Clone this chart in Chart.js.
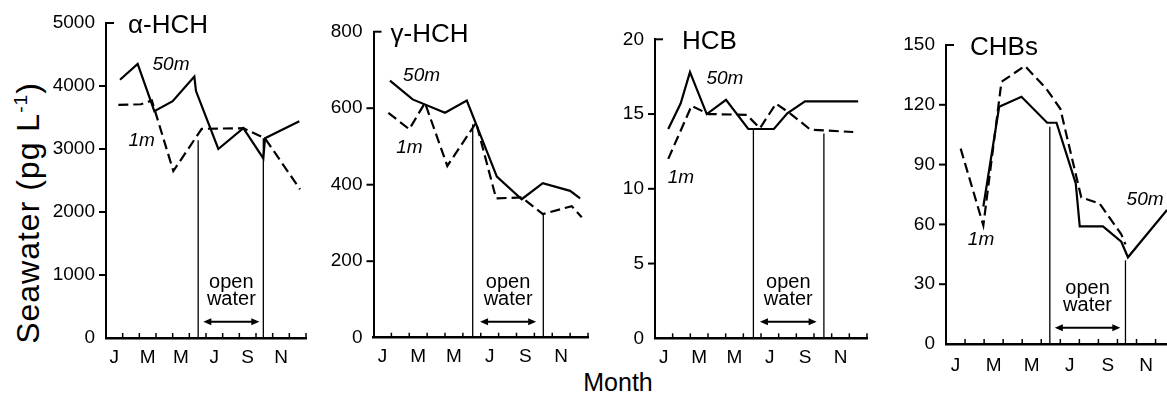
<!DOCTYPE html>
<html lang="en">

<head>
    <meta charset="UTF-8">
    <title>Seawater concentrations by month</title>
    <script src="https://cdn.jsdelivr.net/npm/chart.js"></script>
    <style>
        body { margin: 0; background: #fff; font-family: "Liberation Sans", Arial, sans-serif; }
        #wrap { position: relative; width: 1167px; height: 396px; overflow: hidden; }
        canvas { position: absolute; top: 0; }
        .ytitle {
            position: absolute; left: 28px; top: 213px; white-space: nowrap;
            font-size: 32px; letter-spacing: 1px;
            transform: translate(-50%, -50%) rotate(-90deg);
        }
        .ytitle sup { font-size: 0.6em; }
        .xtitle { position: absolute; left: 618px; top: 368px; font-size: 25px; transform: translateX(-50%); }
    </style>
</head>

<body>
    <div id="wrap">
        <div class="ytitle">Seawater (pg L<sup>-1</sup>)</div>
        <div class="xtitle">Month</div>
        <canvas id="p1" width="275" height="396" style="left:45px"></canvas>
        <canvas id="p2" width="275" height="396" style="left:320px"></canvas>
        <canvas id="p3" width="275" height="396" style="left:600px"></canvas>
        <canvas id="p4" width="282" height="396" style="left:885px"></canvas>
    </div>

    <script>
        // month axis: 0 = start of January, labels sit mid-month
        const monthLabels = ['J', 'M', 'M', 'J', 'S', 'N'];
        const labelMonths = [0.5, 2.5, 4.5, 6.5, 8.5, 10.5];

        // alpha-HCH (pg/L)
        const aHch50Month = [0.84, 1.90, 2.90, 4.00, 5.30, 5.40, 6.74, 8.24, 9.44, 9.54, 11.6];
        const aHch50 = [4100, 4350, 3600, 3760, 4150, 3920, 3000, 3330, 2850, 3170, 3440];
        const aHch1Month = [0.74, 2.10, 2.75, 4.04, 5.74, 8.24, 9.54, 11.64];
        const aHch1 = [3700, 3710, 3770, 2650, 3320, 3330, 3170, 2360];
        const aHchOpen = [5.53, 9.44];
        const aHchOpenTop = [3140, 3170];

        // gamma-HCH
        const gHch50Month = [0.92, 2.19, 4.0, 5.22, 6.9, 8.29, 9.47, 11.0, 11.56];
        const gHch50 = [672, 623, 588, 620, 421, 362, 404, 384, 364];
        const gHch1Month = [0.83, 2.0, 2.88, 4.13, 5.74, 6.86, 8.29, 9.47, 11.09, 11.65];
        const gHch1 = [588, 545, 614, 449, 562, 364, 367, 323, 344, 315];
        const gHchOpen = [5.55, 9.5];
        const gHchOpenTop = [558, 325];

        // HCB
        const hcb50Month = [0.75, 1.45, 1.98, 2.93, 4.02, 5.28, 6.73, 7.49, 8.49, 11.5];
        const hcb50 = [14.0, 15.7, 17.8, 15.0, 15.95, 14.0, 14.0, 15.05, 15.85, 15.85];
        const hcb1Month = [0.75, 2.07, 3.02, 5.19, 5.94, 6.85, 7.64, 8.8, 11.22];
        const hcb1 = [12.0, 15.55, 15.0, 14.95, 14.05, 15.7, 15.05, 13.95, 13.8];
        const hcbOpen = [5.57, 9.56];
        const hcbOpenTop = [13.95, 13.7];

        // CHBs
        const chb50Month = [1.96, 2.79, 3.96, 5.31, 5.8, 6.81, 7.02, 8.24, 9.2, 9.55, 11.6];
        const chb50 = [69, 119, 124, 111, 111, 80.6, 59, 59, 51.3, 43.5, 67.2];
        const chb1Month = [0.77, 1.96, 2.91, 4.14, 5.27, 6.0, 7.1, 8.06, 9.2, 9.42];
        const chb1 = [98, 59.5, 131.5, 139.5, 128, 118, 73.5, 70.5, 55, 50];
        const chbOpen = [5.45, 9.42];
        const chbOpenTop = [109, 42];

        const FONT = '"Liberation Sans", Arial, sans-serif';
        const toXY = (xs, ys) => xs.map((m, i) => ({ x: m, y: ys[i] }));

        function decor(p) {
            return {
                id: 'decor',
                afterDatasetsDraw(chart) {
                    const { ctx, chartArea: a, scales: { x, y } } = chart;
                    ctx.save();
                    ctx.strokeStyle = '#000';
                    ctx.fillStyle = '#000';

                    // month boundary ticks point up into the plot
                    ctx.lineWidth = 1.5;
                    for (let m = 1; m <= 12; m++) {
                        const px = x.getPixelForValue(m);
                        if (px > a.right + 1) break;
                        ctx.beginPath();
                        ctx.moveTo(px, a.bottom);
                        ctx.lineTo(px, a.bottom - 5);
                        ctx.stroke();
                    }
                    // y ticks: outward, except the top one which points inward
                    ctx.lineWidth = 2;
                    y.ticks.forEach(t => {
                        if (t.value === 0) return;
                        const py = y.getPixelForValue(t.value);
                        ctx.beginPath();
                        if (t.value === y.max) {
                            ctx.moveTo(a.left, py);
                            ctx.lineTo(a.left + 8, py);
                        } else {
                            ctx.moveTo(a.left, py);
                            ctx.lineTo(a.left - 7, py);
                        }
                        ctx.stroke();
                    });

                    // panel title
                    ctx.font = '26px ' + FONT;
                    ctx.textAlign = 'left';
                    ctx.textBaseline = 'alphabetic';
                    ctx.fillText(p.title, a.left + p.titleDx, a.top + 10);

                    // depth labels
                    ctx.font = 'italic 19px ' + FONT;
                    ctx.textAlign = 'center';
                    ctx.textBaseline = 'middle';
                    p.labels.forEach(l => ctx.fillText(l.text, x.getPixelForValue(l.x), y.getPixelForValue(l.y)));

                    // open water arrow
                    const x1 = x.getPixelForValue(p.arrow[0]);
                    const x2 = x.getPixelForValue(p.arrow[1]);
                    const ay = y.getPixelForValue(p.arrowAt);
                    ctx.lineWidth = 2;
                    ctx.beginPath();
                    ctx.moveTo(x1 + 4, ay);
                    ctx.lineTo(x2 - 4, ay);
                    ctx.stroke();
                    [[x1, 1], [x2, -1]].forEach(([hx, d]) => {
                        ctx.beginPath();
                        ctx.moveTo(hx, ay);
                        ctx.lineTo(hx + d * 8, ay - 3.5);
                        ctx.lineTo(hx + d * 8, ay + 3.5);
                        ctx.closePath();
                        ctx.fill();
                    });
                    ctx.font = '20px ' + FONT;
                    ctx.textBaseline = 'alphabetic';
                    const cx = (x1 + x2) / 2;
                    ctx.fillText('open', cx, ay - 34);
                    ctx.fillText('water', cx, ay - 17);
                    ctx.restore();
                }
            };
        }

        function makePanel(id, p) {
            const solid = { data: toXY(p.m50, p.v50), borderColor: '#000', borderWidth: 2.2, pointRadius: 0 };
            const dashed = { data: toXY(p.m1, p.v1), borderColor: '#000', borderWidth: 2.2, borderDash: [10, 5], pointRadius: 0 };
            const events = p.open.map((m, i) => ({
                data: [{ x: m, y: 0 }, { x: m, y: p.openTop[i] }],
                borderColor: '#000', borderWidth: 1.3, pointRadius: 0
            }));
            new Chart(document.getElementById(id), {
                type: 'line',
                data: { datasets: [solid, dashed, ...events] },
                options: {
                    responsive: false,
                    animation: false,
                    layout: { padding: p.pad },
                    plugins: { legend: { display: false }, tooltip: { enabled: false } },
                    scales: {
                        x: {
                            type: 'linear', min: 0, max: p.xMax,
                            afterBuildTicks: s => { s.ticks = labelMonths.map(v => ({ value: v })); },
                            afterFit: s => { s.height = 50; },
                            ticks: {
                                callback: (v, i) => monthLabels[i],
                                autoSkip: false, maxRotation: 0, padding: p.xPad,
                                color: '#000', font: { family: FONT, size: 19 }
                            },
                            grid: { display: false, drawTicks: false },
                            border: { color: '#000', width: 2.5 }
                        },
                        y: {
                            min: 0, max: p.yMax,
                            afterFit: s => { s.width = p.yWidth; },
                            ticks: {
                                stepSize: p.yStep, padding: 11,
                                callback: v => String(v),
                                color: '#000', font: { family: FONT, size: 19 }
                            },
                            grid: { display: false, drawTicks: false },
                            border: { color: '#000', width: 2 }
                        }
                    }
                },
                plugins: [decor(p)]
            });
        }

        makePanel('p1', {
            m50: aHch50Month, v50: aHch50, m1: aHch1Month, v1: aHch1, open: aHchOpen, openTop: aHchOpenTop,
            yMax: 5000, yStep: 1000, xMax: 12, yWidth: 61, xPad: 8,
            pad: { top: 23, right: 14, bottom: 8, left: 0 },
            title: 'α-HCH', titleDx: 22,
            labels: [{ text: '50m', x: 3.9, y: 4333 }, { text: '1m', x: 2.14, y: 3127 }],
            arrow: [5.84, 9.2], arrowAt: 259
        });
        makePanel('p2', {
            m50: gHch50Month, v50: gHch50, m1: gHch1Month, v1: gHch1, open: gHchOpen, openTop: gHchOpenTop,
            yMax: 800, yStep: 200, xMax: 12, yWidth: 53.5, xPad: 8,
            pad: { top: 31.7, right: 7, bottom: 8.3, left: 0 },
            title: 'γ-HCH', titleDx: 17,
            labels: [{ text: '50m', x: 2.69, y: 684 }, { text: '1m', x: 2.01, y: 497 }],
            arrow: [5.96, 9.1], arrowAt: 42
        });
        makePanel('p3', {
            m50: hcb50Month, v50: hcb50, m1: hcb1Month, v1: hcb1, open: hcbOpen, openTop: hcbOpenTop,
            yMax: 20, yStep: 5, xMax: 12, yWidth: 55, xPad: 8,
            pad: { top: 39.3, right: 8, bottom: 7.7, left: 0 },
            title: 'HCB', titleDx: 27,
            labels: [{ text: '50m', x: 3.96, y: 17.38 }, { text: '1m', x: 1.47, y: 10.72 }],
            arrow: [5.94, 9.15], arrowAt: 1.1
        });
        makePanel('p4', {
            m50: chb50Month, v50: chb50, m1: chb1Month, v1: chb1, open: chbOpen, openTop: chbOpenTop,
            yMax: 150, yStep: 30, xMax: 11.6, yWidth: 61, xPad: 10,
            pad: { top: 45, right: 0, bottom: 2, left: 0 },
            title: 'CHBs', titleDx: 24,
            labels: [{ text: '50m', x: 10.45, y: 72.3 }, { text: '1m', x: 1.84, y: 52.2 }],
            arrow: [5.71, 9.15], arrowAt: 8.2
        });
    </script>
</body>

</html>
